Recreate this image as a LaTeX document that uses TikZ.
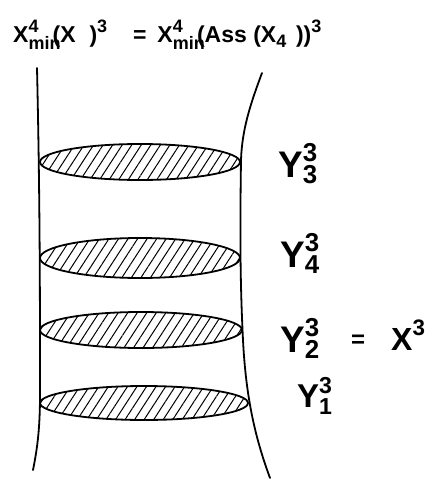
\documentclass[tikz,border=0pt]{standalone}
\usepackage{amsmath}
\usepackage{fontspec}
\setmainfont{Liberation Sans}
\usetikzlibrary{patterns.meta}

\newcommand\scr[1]{\text{\fontsize{18}{18}\selectfont\bfseries #1}}
\newcommand\ylab[2]{$\text{Y}^{\text{#2}}_{\text{#1}}$}

\begin{document}
\begin{tikzpicture}[
  x=1pt, y=-1pt,
  wall/.style={line width=1.8pt, line cap=round},
  slice/.style={line width=1.8pt, pattern={Lines[angle=57, distance=8pt, line width=1pt]}},
  ylabel/.style={anchor=base west, inner sep=0pt, font=\fontsize{37}{40}\selectfont\bfseries},
  formula/.style={anchor=base west, inner sep=0pt, font=\fontsize{23}{26}\selectfont\bfseries},
]
\useasboundingbox (0,0) rectangle (431,480);

% ---- formula on top ----
\node[formula] (top) at (13,42) {$\text{X}^{\scr{4}}_{\scr{min}}\!\!\text{(X\hspace{0.6em})}^{\scr{3}}
  \hspace{1.1em}\text{=}\;\, \text{X}^{\scr{4}}_{\scr{min}}\!\!\text{(Ass (X}_{\scr{4}}\text{\hspace{0.4em}))}^{\scr{3}}$};

% ---- the two walls ----
\draw[wall] (37,68) .. controls (40,200) and (40,300) .. (40,395)
  .. controls (40,430) and (37,450) .. (33,470);
\draw[wall] (262,73) .. controls (250,105) and (242,130) .. (241,160)
  .. controls (240,230) and (240,280) .. (243,340)
  .. controls (246,400) and (256,440) .. (270,478);

% ---- hatched slices ----
\draw[slice] (140,162) ellipse [x radius=100, y radius=18];
\draw[slice] (140,258) ellipse [x radius=100, y radius=20];
\draw[slice] (141,330) ellipse [x radius=101, y radius=18];
\draw[slice] (144,403) ellipse [x radius=104, y radius=17];

% ---- labels ----
\node[ylabel] (y3) at (278,177) {\ylab{3}{3}};
\node[ylabel] (y4) at (280,267) {\ylab{4}{3}};
\node[ylabel] (y2) at (280,352) {\ylab{2}{3}};
\node[ylabel, font=\fontsize{24}{26}\selectfont\bfseries] (eq) at (351,347) {=};
\node[ylabel, font=\fontsize{32}{34}\selectfont\bfseries] (x3) at (391,350) {$\text{X}^{\text{3}}$};
\node[ylabel, font=\fontsize{33}{36}\selectfont\bfseries] (y1) at (297,407) {\ylab{1}{3}};

\end{tikzpicture}
\end{document}
